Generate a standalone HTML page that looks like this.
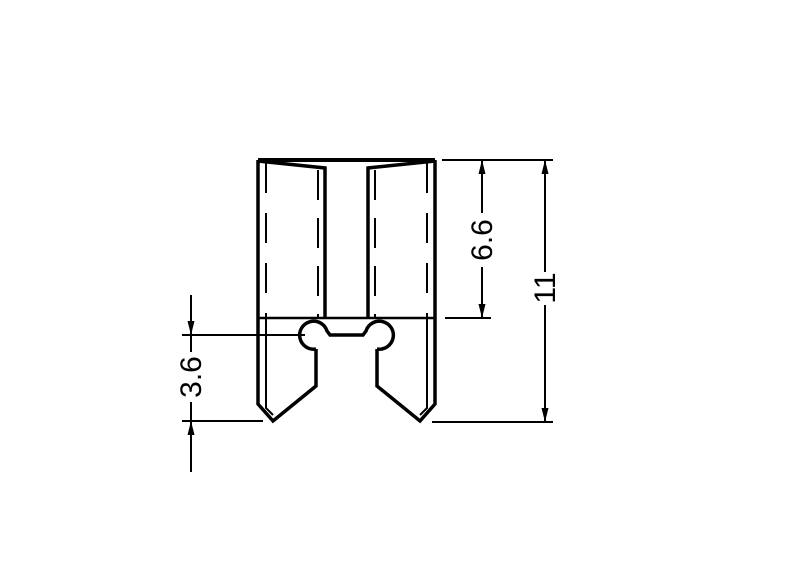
<!DOCTYPE html>
<html><head><meta charset="utf-8"><style>html,body{margin:0;padding:0;background:#fff}svg{display:block}</style></head>
<body>
<svg width="800" height="576" viewBox="0 0 800 576" xmlns="http://www.w3.org/2000/svg">
<defs>
<marker id="a" viewBox="0 0 14 7" refX="14" refY="3.5" markerWidth="14" markerHeight="7" orient="auto" markerUnits="userSpaceOnUse"><path d="M0,0 L14,3.5 L0,7 Z" fill="#000"/></marker>
</defs>
<g id="half" fill="none" stroke="#000" stroke-linejoin="miter">
  <path d="M258,160 L346.5,160" stroke-width="4"/>
  <path d="M258,160 L258,404 L273,421 L316,386 L316,349" stroke-width="3.5"/>
  <path d="M258,161 L325,168 L325,318" stroke-width="3.5"/>
  <path d="M266,318 L266,408 L273,415" stroke-width="2"/>
  <path d="M266,163 L266,318" stroke-width="2" stroke-dasharray="30,20"/>
  <path d="M318,170 L318,318" stroke-width="2" stroke-dasharray="30,18"/>
  <path d="M258,318 L346.5,318" stroke-width="2.5"/>
  <path d="M316,349 A14,14 0 1 1 327,331 L330,335 L346.5,335" stroke-width="3.5"/>
</g>
<use href="#half" transform="translate(693,0) scale(-1,1)"/>
<g stroke="#000" stroke-width="2" fill="none">
  <line x1="182" y1="335" x2="305" y2="335"/>
  <line x1="182" y1="421" x2="263" y2="421"/>
  <line x1="191" y1="295" x2="191" y2="335" marker-end="url(#a)"/>
  <line x1="191" y1="472" x2="191" y2="421" marker-end="url(#a)"/>
  <line x1="191" y1="335" x2="191" y2="352"/>
  <line x1="191" y1="402" x2="191" y2="421"/>
  <line x1="442" y1="160" x2="553" y2="160"/>
  <line x1="432" y1="422" x2="553" y2="422"/>
  <line x1="445" y1="318" x2="491" y2="318"/>
  <line x1="482" y1="213" x2="482" y2="160" marker-end="url(#a)"/>
  <line x1="482" y1="267" x2="482" y2="318" marker-end="url(#a)"/>
  <line x1="545" y1="272" x2="545" y2="160" marker-end="url(#a)"/>
  <line x1="545" y1="305" x2="545" y2="422" marker-end="url(#a)"/>
</g>
<g font-family="Liberation Sans, sans-serif" font-size="30" fill="#000" text-anchor="middle">
  <text transform="translate(201,377) rotate(-90)">3.6</text>
  <text transform="translate(492,240) rotate(-90)">6.6</text>
  <text transform="translate(555,288) rotate(-90)">11</text>
</g>
</svg>
</body></html>
